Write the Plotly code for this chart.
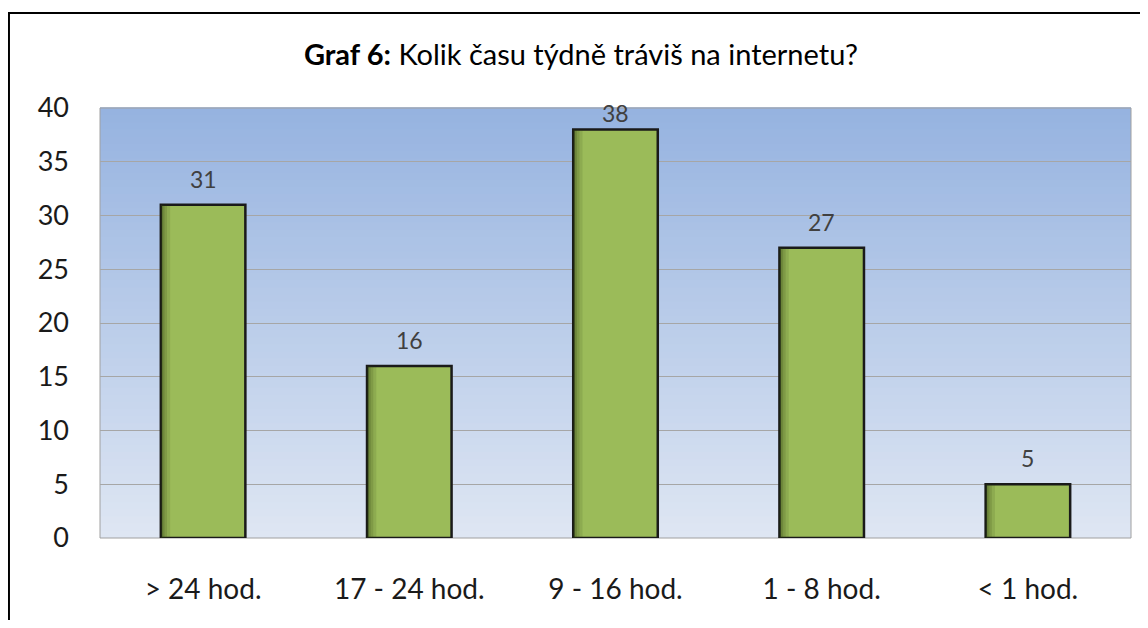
import plotly.graph_objects as go

categories = ["> 24 hod.", "17 - 24 hod.", "9 - 16 hod.", "1 - 8 hod.", "< 1 hod."]
values = [31, 16, 38, 27, 5]
y_ticks = [0, 5, 10, 15, 20, 25, 30, 35, 40]

FONT = "Lato, 'Open Sans', sans-serif"
Y_MAX = 40
PX_PER_UNIT = 430 / Y_MAX
BAR_W = 0.41

fig = go.Figure()
fig.add_trace(go.Bar(
    x=categories, y=values,
    marker=dict(color="#9BBB59", line=dict(color="#1a1a1a", width=2.5)),
    width=BAR_W, offset=-BAR_W / 2, hoverinfo="x+y",
))
# left-edge shading layers
for w, a in [(0.045, 0.12), (0.03, 0.14), (0.018, 0.18), (0.009, 0.2)]:
    fig.add_trace(go.Bar(
        x=categories, y=values,
        marker=dict(color="rgba(40,55,15,%.2f)" % a, line=dict(width=0)),
        width=w, offset=-BAR_W / 2, hoverinfo="skip",
    ))

# value labels above bars (kept inside plot area like Excel)
for c, v in zip(categories, values):
    shift = min(26, (Y_MAX - v) * PX_PER_UNIT - 5)
    fig.add_annotation(x=c, y=v, xref="x", yref="y", text=str(v), showarrow=False,
                       yshift=shift, font=dict(family=FONT, size=23, color="#404040"))

# gradient background of plot area
shapes = []
top = (0x96, 0xB3, 0xE0)
bot = (0xDE, 0xE6, 0xF3)
n = 60
for i in range(n):
    t = i / (n - 1)
    col = tuple(round(bot[k] + (top[k] - bot[k]) * t) for k in range(3))
    shapes.append(dict(type="rect", xref="paper", yref="paper", x0=0, x1=1,
                       y0=i / n, y1=(i + 1) / n + 0.002, layer="below",
                       line=dict(width=0), fillcolor="rgb(%d,%d,%d)" % col))
shapes.append(dict(type="rect", xref="paper", yref="paper", x0=0, x1=1, y0=0, y1=1,
                   layer="below", line=dict(color="#A0A0A0", width=1), fillcolor="rgba(0,0,0,0)"))
# outer chart border
shapes.append(dict(type="rect", xref="paper", yref="paper", x0=-0.0883, x1=1.08,
                   y0=-0.3, y1=1.2209, line=dict(color="#000000", width=2),
                   fillcolor="rgba(0,0,0,0)", layer="above"))

fig.update_layout(
    width=1132, height=612,
    margin=dict(l=92, r=9, t=100, b=82),
    paper_bgcolor="white", plot_bgcolor="#DEE6F3",
    shapes=shapes,
    showlegend=False,
    barmode="overlay",
    title=dict(text="<b>Graf 6:</b> Kolik času týdně tráviš na internetu?",
               x=0.4665, xanchor="center", xref="paper", y=0.9232, yanchor="middle",
               font=dict(family=FONT, size=29, color="#000000")),
    font=dict(family=FONT),
    xaxis=dict(showgrid=False, showline=False, zeroline=False,
               tickfont=dict(family=FONT, size=28, color="#1a1a1a"),
               ticklabelstandoff=32, ticks=""),
    yaxis=dict(range=[0, Y_MAX], tickvals=y_ticks, showgrid=True, gridcolor="#A6A6A6",
               gridwidth=1, zeroline=False, showline=False,
               tickfont=dict(family=FONT, size=27, color="#1a1a1a"),
               ticklabelstandoff=30, ticks=""),
)

fig.write_html("out.html")
